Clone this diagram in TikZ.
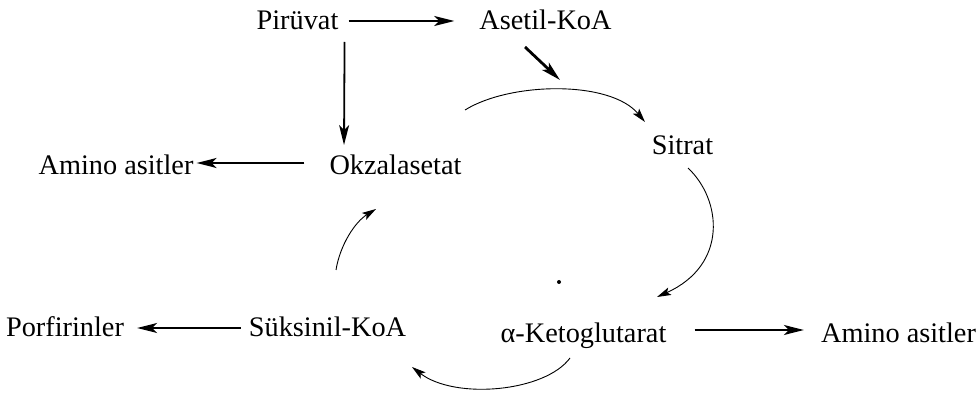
\documentclass[tikz,border=0pt]{standalone}
\usepackage{fontspec}
\setmainfont{Liberation Serif}
\usetikzlibrary{arrows.meta}
\begin{document}
\begin{tikzpicture}[x=1pt,y=-1pt,
  lbl/.style={inner sep=0pt,anchor=base,font=\fontsize{28.3}{32}\selectfont},
  arr/.style={line width=1.8pt,-{Stealth[length=20pt,width=10pt,inset=5pt]}},
  cyc/.style={line width=0.9pt,-{Stealth[length=14pt,width=8pt,inset=3pt]}}]
\useasboundingbox (0,0) rectangle (978,395);
% nodes
\node[lbl] (pir) at (297.5,30) {Pirüvat};
\node[lbl] (ase) at (545.5,30) {Asetil-KoA};
\node[lbl] (okz) at (395.5,175) {Okzalasetat};
\node[lbl] (amL) at (116,175) {Amino asitler};
\node[lbl] (sit) at (682.5,155) {Sitrat};
\node[lbl] (akg) at (583.5,343) {α-Ketoglutarat};
\node[lbl] (amR) at (898.5,343) {Amino asitler};
\node[lbl] (suk) at (327.5,337) {Süksinil-KoA};
\node[lbl] (por) at (65,337) {Porfirinler};
% cycle points
\coordinate (acin) at (560,80);
\coordinate (c1s) at (465,110);
\coordinate (c1e) at (645,122);
\coordinate (c2s) at (688,168);
\coordinate (c2e) at (657,297);
\coordinate (c3s) at (570,358);
\coordinate (c3e) at (412,367);
\coordinate (c4s) at (336,270);
\coordinate (c4e) at (376,209);
% straight arrows
\draw[arr] ([xshift=10pt,yshift=9pt]pir.base east) -- ([xshift=-25pt,yshift=9pt]ase.base west);
\draw[arr] ([xshift=6pt,yshift=-12pt]pir.base east) -- ([xshift=-51.5pt,yshift=30pt]okz.base);
\draw[arr,line width=2.8pt] ([xshift=-20.5pt,yshift=-17pt]ase.base) -- (acin);
\draw[arr] ([xshift=-25pt,yshift=12pt]okz.base west) -- ([xshift=3pt,yshift=12pt]amL.base east);
\draw[arr] ([xshift=28pt,yshift=13pt]akg.base east) -- ([xshift=-17pt,yshift=13pt]amR.base west);
\draw[arr] ([xshift=-8pt,yshift=9pt]suk.base west) -- ([xshift=13pt,yshift=9pt]por.base east);
% cycle arcs
\draw[cyc] (c1s) .. controls (510,82) and (610,80) .. (c1e);
\draw[cyc] (c2s) .. controls (722,200) and (728,265) .. (c2e);
\draw[cyc] (c3s) .. controls (545,392) and (455,400) .. (c3e);
\draw[cyc] (c4s) .. controls (340,245) and (355,222) .. (c4e);
% dot
\fill (559,282) circle (2);
\end{tikzpicture}
\end{document}
